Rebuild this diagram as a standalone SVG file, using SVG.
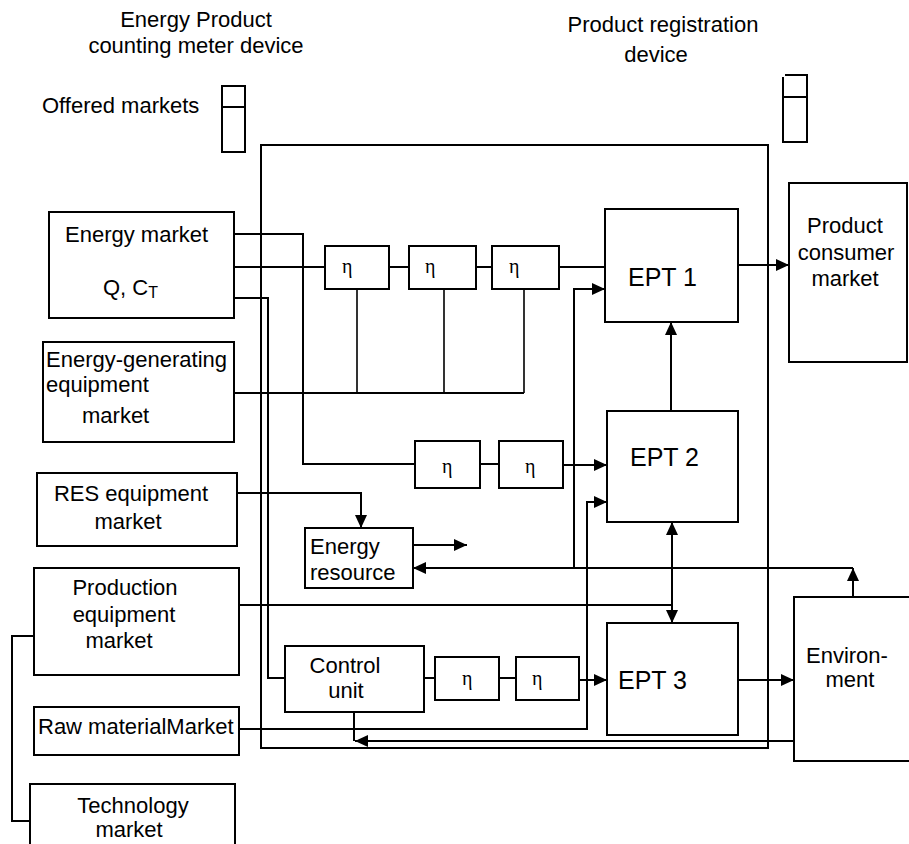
<svg xmlns="http://www.w3.org/2000/svg" width="909" height="844" viewBox="0 0 909 844">
<style>
text{font-family:"Liberation Sans",Arial,sans-serif;font-size:22px;fill:#000}
.box{fill:#fff;stroke:#000;stroke-width:2}
.eta{font-family:"Liberation Serif","Times New Roman",serif;font-size:20px}
.ept{font-size:25px}
.c{fill:none;stroke:#000;stroke-width:2}
.t{fill:none;stroke:#000;stroke-width:1.6}
</style>
<defs>
<marker id="ah" markerUnits="userSpaceOnUse" markerWidth="13" markerHeight="12" refX="13" refY="6" orient="auto">
<path d="M0,0 L13,6 L0,12 z" fill="#000"/>
</marker>
<marker id="as" markerUnits="userSpaceOnUse" markerWidth="13" markerHeight="12" refX="0" refY="6" orient="auto">
<path d="M13,0 L0,6 L13,12 z" fill="#000"/>
</marker>
</defs>
<rect width="909" height="844" fill="#fff"/>

<g id="titles">
<text x="196" y="27" text-anchor="middle">Energy Product</text>
<text x="196" y="53" text-anchor="middle">counting meter device</text>
<text x="42" y="113">Offered markets</text>
<text x="663" y="32" text-anchor="middle">Product registration</text>
<text x="656" y="62" text-anchor="middle">device</text>
</g>

<g id="meter-device">
<rect class="box" x="222" y="86" width="23" height="66"/>
<line class="c" x1="222" y1="107" x2="245" y2="107"/>
</g>
<g id="registration-device">
<path class="c" d="M785,75 H807 V142 H783 V77"/>
<line class="c" x1="783" y1="97" x2="807" y2="97"/>
</g>

<g id="container">
<rect class="c" x="261" y="145" width="507" height="603"/>
</g>

<g id="connectors">
<path class="c" d="M234,234 H303 V464 H415"/>
<path class="c" d="M234,267 H325"/>
<path class="c" d="M389,267 H409 M476,267 H492 M559,267 H605"/>
<path class="c" d="M234,298 H268 V678 H285"/>
<path class="t" d="M357,289 V393 M444,289 V393 M524,289 V393"/>
<path class="c" d="M234,393 H524"/>
<path class="c" d="M480,464 H499"/>
<path class="c" d="M563,465 H607" marker-end="url(#ah)"/>
<path class="c" d="M237,493 H361 V528" marker-end="url(#ah)"/>
<path class="c" d="M413,545 H467" marker-end="url(#ah)"/>
<path class="c" d="M853,597 V568" marker-end="url(#ah)"/>
<path class="c" d="M853,568 H413" marker-end="url(#ah)"/>
<path class="c" d="M574,568 V289 H605" marker-end="url(#ah)"/>
<path class="c" d="M239,605 H672"/>
<path class="c" d="M671,411 V322" marker-end="url(#ah)"/>
<path class="c" d="M672,522 V623" marker-start="url(#as)" marker-end="url(#ah)"/>
<path class="c" d="M239,729 H587 V502 H607" marker-end="url(#ah)"/>
<path class="c" d="M424,678 H435 M499,678 H516"/>
<path class="c" d="M579,680 H607" marker-end="url(#ah)"/>
<path class="c" d="M738,680 H794" marker-end="url(#ah)"/>
<path class="c" d="M794,741 H355" marker-end="url(#ah)"/>
<path class="c" d="M354,712 V741"/>
<path class="c" d="M738,265 H789" marker-end="url(#ah)"/>
<path class="c" d="M34,636 H12 V821 H30"/>
</g>

<g id="energy-market">
<rect class="box" x="49" y="212" width="185" height="106"/>
<text x="65" y="242">Energy market</text>
<text x="103" y="295">Q, C<tspan font-size="16" dy="3">T</tspan></text>
</g>
<g id="energy-generating-market">
<rect class="box" x="43" y="342" width="191" height="100"/>
<text x="46" y="367">Energy-generating</text>
<text x="46" y="392">equipment</text>
<text x="82" y="423">market</text>
</g>
<g id="res-market">
<rect class="box" x="37" y="473" width="200" height="73"/>
<text x="131" y="501" text-anchor="middle">RES equipment</text>
<text x="128" y="529" text-anchor="middle">market</text>
</g>
<g id="production-market">
<rect class="box" x="34" y="568" width="205" height="107"/>
<text x="125" y="595" text-anchor="middle">Production</text>
<text x="124" y="622" text-anchor="middle">equipment</text>
<text x="119" y="648" text-anchor="middle">market</text>
</g>
<g id="raw-material-market">
<rect class="box" x="34" y="707" width="205" height="48"/>
<text x="38" y="734">Raw materialMarket</text>
</g>
<g id="technology-market">
<rect class="box" x="30" y="784" width="205" height="80"/>
<text x="133" y="813" text-anchor="middle">Technology</text>
<text x="129" y="837" text-anchor="middle">market</text>
</g>

<g id="eta-row1">
<rect class="box" x="325" y="246" width="64" height="43"/>
<text class="eta" x="342" y="273">η</text>
<rect class="box" x="409" y="246" width="67" height="43"/>
<text class="eta" x="425" y="273">η</text>
<rect class="box" x="492" y="246" width="67" height="43"/>
<text class="eta" x="509" y="273">η</text>
</g>
<g id="eta-row2">
<rect class="box" x="415" y="441" width="65" height="47"/>
<text class="eta" x="442" y="473">η</text>
<rect class="box" x="499" y="441" width="64" height="47"/>
<text class="eta" x="525" y="473">η</text>
</g>
<g id="eta-row3">
<rect class="box" x="435" y="657" width="64" height="43"/>
<text class="eta" x="462" y="685">η</text>
<rect class="box" x="516" y="657" width="63" height="43"/>
<text class="eta" x="532" y="685">η</text>
</g>

<g id="energy-resource">
<rect class="box" x="305" y="528" width="108" height="60"/>
<text x="310" y="554">Energy</text>
<text x="310" y="580">resource</text>
</g>
<g id="control-unit">
<rect class="box" x="285" y="646" width="139" height="66"/>
<text x="345" y="673" text-anchor="middle">Control</text>
<text x="346" y="698" text-anchor="middle">unit</text>
</g>

<g id="ept1">
<rect class="box" x="605" y="209" width="133" height="113"/>
<text class="ept" x="628" y="286">EPT 1</text>
</g>
<g id="ept2">
<rect class="box" x="607" y="411" width="131" height="111"/>
<text class="ept" x="630" y="466">EPT 2</text>
</g>
<g id="ept3">
<rect class="box" x="607" y="623" width="131" height="112"/>
<text class="ept" x="618" y="689">EPT 3</text>
</g>

<g id="consumer-market">
<rect class="box" x="789" y="183" width="118" height="179"/>
<text x="845" y="233" text-anchor="middle">Product</text>
<text x="846" y="260" text-anchor="middle">consumer</text>
<text x="845" y="286" text-anchor="middle">market</text>
</g>
<g id="environment">
<rect class="box" x="794" y="597" width="130" height="164"/>
<text x="806" y="663">Environ-</text>
<text x="850" y="687" text-anchor="middle">ment</text>
</g>
</svg>
